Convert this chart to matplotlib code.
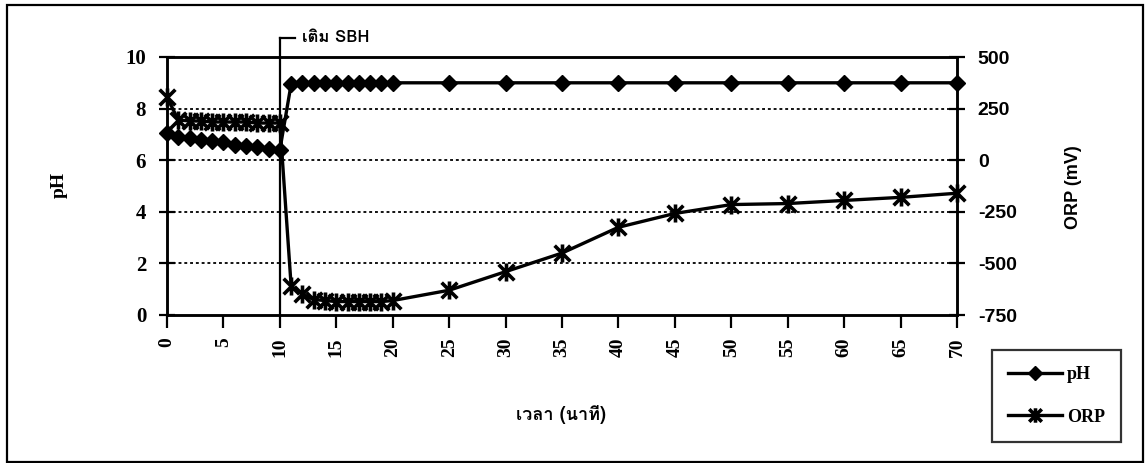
import matplotlib
matplotlib.use("Agg")
import matplotlib.pyplot as plt
from matplotlib import font_manager
from matplotlib.ft2font import FT2Font
from matplotlib.path import Path
from matplotlib.patches import Rectangle

# ---- data -------------------------------------------------------------
minutes = [0, 1, 2, 3, 4, 5, 6, 7, 8, 9, 10,
           11, 12, 13, 14, 15, 16, 17, 18, 19, 20,
           25, 30, 35, 40, 45, 50, 55, 60, 65, 70]
# pH before (0-10 min) and after (11-70 min) the SBH addition
ph_before = [7.05, 6.9, 6.85, 6.8, 6.75, 6.7, 6.6, 6.55, 6.5, 6.45, 6.4]
ph_after = [8.95, 9.0, 9.0, 9.0, 9.0, 9.0, 9.0, 9.0, 9.0, 9.0,
            9.0, 9.0, 9.0, 9.0, 9.0, 9.0, 9.0, 9.0, 9.0, 9.0]
orp_before = [305, 195, 190, 190, 185, 185, 185, 185, 180, 180, 180]
orp_after = [-610, -650, -675, -680, -685, -685, -685, -685, -685, -680,
             -630, -540, -450, -325, -258, -215, -210, -195, -180, -160]
ph = ph_before + ph_after
orp = orp_before + orp_after

sbh_time = 10
x_ticks = [0, 5, 10, 15, 20, 25, 30, 35, 40, 45, 50, 55, 60, 65, 70]
ph_ticks = [0, 2, 4, 6, 8, 10]
orp_ticks = [-750, -500, -250, 0, 250, 500]

x_label = "เวลา (นาที)"
ph_label = "pH"
orp_label = "ORP (mV)"
sbh_label = "เติม SBH"


# ---- fonts ------------------------------------------------------------
def find_thai_family():
    probe = ord("เ")
    for entry in font_manager.fontManager.ttflist:
        try:
            if probe in FT2Font(entry.fname).get_charmap():
                return entry.name
        except Exception:
            continue
    return None


thai = find_thai_family()
thai_family = [thai, "DejaVu Sans"] if thai else ["DejaVu Sans"]
serif = "Liberation Serif"
sans = "Liberation Sans"

# ---- figure -----------------------------------------------------------
W, H = 1145, 463
fig = plt.figure(figsize=(W / 100, H / 100), dpi=100)
ax = fig.add_axes([167 / W, 1 - 315 / H, (957 - 167) / W, (315 - 57) / H])
ax2 = ax.twinx()

# star marker: an X crossed by a vertical bar
star = Path([(-1, -1), (1, 1), (-1, 1), (1, -1), (0, -1.15), (0, 1.15)],
            [Path.MOVETO, Path.LINETO] * 3)

ax.set_xlim(0, 70)
ax.set_ylim(0, 10)
ax2.set_ylim(-750, 500)

for yv in ph_ticks[1:-1]:
    ax.axhline(yv, color="black", lw=1.3, ls=(0, (1.6, 1.6)), zorder=1)

# vertical marker for the SBH addition, extending above the plot
ax.plot([sbh_time, sbh_time], [0, 10.74], color="black", lw=1.6,
        clip_on=False, zorder=2)
ax.plot([sbh_time, sbh_time + 1.3], [10.74, 10.74], color="black", lw=1.6,
        clip_on=False, zorder=2)
ax.text(sbh_time + 1.95, 10.74, sbh_label, family=thai_family,
        fontweight="bold", fontsize=12, va="center", ha="left")

ph_line, = ax.plot(minutes, ph, color="black", lw=2.4, marker="D", ms=8.5,
                   mew=1, mfc="black", mec="black", zorder=4, clip_on=False)
orp_line, = ax2.plot(minutes, orp, color="black", lw=2.4, marker=star,
                     ms=13, mew=2.6, mec="black", zorder=4, clip_on=False)

ax.set_xticks(x_ticks)
ax.set_xticklabels([str(v) for v in x_ticks], rotation=90,
                   family=serif, fontweight="bold", fontsize=14)
ax.set_yticks(ph_ticks)
ax.set_yticklabels([str(v) for v in ph_ticks], family=serif,
                   fontweight="bold", fontsize=15)
ax2.set_yticks(orp_ticks)
ax2.set_yticklabels([str(v) for v in orp_ticks], family=sans,
                    fontweight="bold", fontsize=14)

ax.tick_params(axis="x", direction="out", length=9, width=1.6, pad=7)
ax.tick_params(axis="y", direction="inout", length=12, width=1.6, pad=9)
ax2.tick_params(axis="y", direction="inout", length=12, width=1.6, pad=9)

for a in (ax, ax2):
    for s in a.spines.values():
        s.set_linewidth(1.8)
        s.set_color("black")

fig.text(59 / W, 1 - 185 / H, ph_label, rotation=90, family=serif,
         fontweight="bold", fontsize=14, ha="center", va="center")
fig.text(1074 / W, 1 - 187 / H, orp_label, rotation=90, family=sans,
         fontweight="bold", fontsize=13, ha="center", va="center")
fig.text(561 / W, 1 - 415 / H, x_label, family=thai_family,
         fontweight="bold", fontsize=13, ha="center", va="center")

# legend box in the lower right corner
leg = fig.legend([ph_line, orp_line], [ph_label, "ORP"],
                 loc="upper left", bbox_to_anchor=(992 / W, 1 - 350 / H),
                 prop={"family": serif, "weight": "bold", "size": 13},
                 frameon=True, fancybox=False, shadow=False,
                 handlelength=3.0, handletextpad=0.25, labelspacing=1.4,
                 borderpad=0.9, borderaxespad=0, numpoints=1)
leg.get_frame().set_edgecolor("black")
leg.get_frame().set_linewidth(1.6)
for h in leg.legend_handles:
    h.set_markersize(h.get_markersize() * 0.8)

# outer frame around the whole chart
fig.patches.append(Rectangle((7 / W, 1 - 462 / H), (1143 - 7) / W,
                             (462 - 5) / H, transform=fig.transFigure,
                             fill=False, edgecolor="black", lw=1.6))

fig.savefig("out.png", dpi=100)
